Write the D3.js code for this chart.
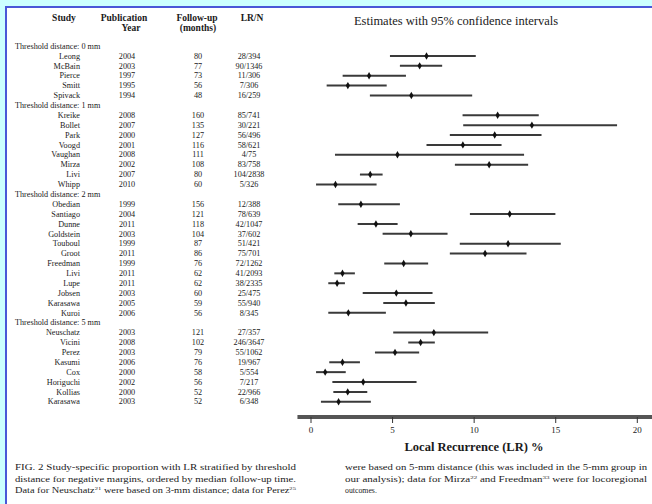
<!DOCTYPE html>
<html>
<head>
<meta charset="utf-8">
<script src="https://cdn.jsdelivr.net/npm/d3@7"></script>
<style>
  html, body { margin: 0; padding: 0; background: #ccffff; }
  svg { display: block; }
  text { font-family: "Liberation Serif", "Times New Roman", serif; fill: #1a1a1a; }
</style>
</head>
<body>
<svg id="fig" width="652" height="504"></svg>
<script>
// Threshold groups and their study rows (ordered by median follow-up)
const groupLabels = ["Threshold distance: 0 mm", "Threshold distance: 1 mm",
                     "Threshold distance: 2 mm", "Threshold distance: 5 mm"];
const groupSizes = [5, 8, 12, 8];

const studies = ["Leong", "McBain", "Pierce", "Smitt", "Spivack",
  "Kreike", "Bollet", "Park", "Voogd", "Vaughan", "Mirza", "Livi", "Whipp",
  "Obedian", "Santiago", "Dunne", "Goldstein", "Touboul", "Groot", "Freedman", "Livi", "Lupe", "Jobsen", "Karasawa", "Kuroi",
  "Neuschatz", "Vicini", "Perez", "Kasumi", "Cox", "Horiguchi", "Kollias", "Karasawa"];
const years = ["2004", "2003", "1997", "1995", "1994",
  "2008", "2007", "2000", "2001", "2008", "2002", "2007", "2010",
  "1999", "2004", "2011", "2003", "1999", "2011", "1999", "2011", "2011", "2003", "2005", "2006",
  "2003", "2008", "2003", "2006", "2000", "2002", "2000", "2003"];
const followUp = ["80", "77", "73", "56", "48",
  "160", "135", "127", "116", "111", "108", "80", "60",
  "156", "121", "118", "104", "87", "86", "76", "62", "62", "60", "59", "56",
  "121", "102", "79", "76", "58", "56", "52", "52"];
const lrN = ["28/394", "90/1346", "11/306", "7/306", "16/259",
  "85/741", "30/221", "56/496", "58/621", "4/75", "83/758", "104/2838", "5/326",
  "12/388", "78/639", "42/1047", "37/602", "51/421", "75/701", "72/1262", "41/2093", "38/2335", "25/475", "55/940", "8/345",
  "27/357", "246/3647", "55/1062", "19/967", "5/554", "7/217", "22/966", "6/348"];

// Local recurrence estimate (%) with lower / upper 95% limits
const estimate = [7.11, 6.69, 3.59, 2.29, 6.18,
  11.47, 13.57, 11.29, 9.34, 5.33, 10.95, 3.66, 1.53,
  3.09, 12.21, 4.01, 6.15, 12.11, 10.70, 5.71, 1.96, 1.63, 5.26, 5.85, 2.32,
  7.56, 6.75, 5.18, 1.96, 0.90, 3.23, 2.28, 1.72];
const lower = [4.87, 5.48, 1.97, 0.99, 3.64,
  9.32, 9.36, 8.54, 7.11, 1.50, 8.85, 3.03, 0.34,
  1.70, 9.77, 2.89, 4.42, 9.15, 8.54, 4.52, 1.46, 1.09, 3.20, 4.46, 1.09,
  5.07, 5.99, 3.95, 1.15, 0.34, 1.34, 1.40, 0.64];
const upper = [10.13, 8.07, 5.85, 4.67, 9.91,
  13.99, 18.79, 14.16, 11.71, 13.09, 13.34, 4.42, 4.05,
  5.48, 15.01, 5.34, 8.40, 15.34, 13.24, 7.21, 2.72, 2.11, 7.48, 7.62, 4.62,
  10.89, 7.62, 6.66, 3.03, 2.16, 6.50, 3.48, 3.70];

const xTicks = [0, 5, 10, 15, 20];

// ---- build the row layout: one header line per group, then its studies
const headerRows = [];
const studyRows = [];
let line = 0, k = 0;
groupSizes.forEach((n, g) => {
  headerRows.push({ label: groupLabels[g], line: line++ });
  for (let j = 0; j < n; j++, k++) {
    studyRows.push({ study: studies[k], year: years[k], fu: followUp[k], lrn: lrN[k],
                     est: estimate[k], lo: lower[k], hi: upper[k], line: line++ });
  }
});

const svg = d3.select("#fig");

// page frame: blue rule along top and left, white sheet
svg.append("rect").attr("x", 5).attr("y", 6).attr("width", 652).attr("height", 504).attr("fill", "#ffffff");
svg.append("line").attr("x1", 5).attr("x2", 652).attr("y1", 7).attr("y2", 7)
  .attr("stroke", "#4a57d8").attr("stroke-width", 2);
svg.append("line").attr("x1", 6).attr("x2", 6).attr("y1", 6).attr("y2", 504)
  .attr("stroke", "#4a57d8").attr("stroke-width", 2);

const y = d3.scaleLinear().domain([0, line - 1]).range([46.1, 46.1 + (line - 1) * 9.88]);
const x = d3.scaleLinear().domain([0, 20]).range([310.5, 636.8]);

// ---- table header
const head = svg.append("g").attr("font-weight", "bold").attr("font-size", 9.5).attr("text-anchor", "middle");
head.append("text").attr("x", 64).attr("y", 21).text("Study");
head.append("text").attr("x", 124).attr("y", 21).text("Publication");
head.append("text").attr("x", 131).attr("y", 31).text("Year");
head.append("text").attr("x", 197).attr("y", 21).text("Follow-up");
head.append("text").attr("x", 198).attr("y", 31).text("(months)");
head.append("text").attr("x", 252).attr("y", 21).text("LR/N");

svg.append("text").attr("x", 456).attr("y", 25).attr("text-anchor", "middle")
  .attr("font-size", 12.5).attr("fill", "#111")
  .text("Estimates with 95% confidence intervals");

// ---- group headers
svg.append("g").attr("font-size", 8.2).selectAll("text").data(headerRows).join("text")
  .attr("x", 15).attr("y", d => y(d.line)).attr("dy", "0.33em").text(d => d.label);

// ---- study table columns
const rowsG = svg.append("g").attr("font-size", 8.2);
const cols = [
  { key: "study", x: 80, anchor: "end" },
  { key: "year", x: 127, anchor: "middle" },
  { key: "fu", x: 198, anchor: "middle" },
  { key: "lrn", x: 249, anchor: "middle" }
];
cols.forEach(c => {
  rowsG.append("g").attr("text-anchor", c.anchor).selectAll("text").data(studyRows).join("text")
    .attr("x", c.x).attr("y", d => y(d.line)).attr("dy", "0.33em").text(d => d[c.key]);
});

// ---- confidence intervals and point estimates
const ci = svg.append("g");
ci.selectAll("line").data(studyRows).join("line")
  .attr("x1", d => x(d.lo)).attr("x2", d => x(d.hi))
  .attr("y1", d => y(d.line)).attr("y2", d => y(d.line))
  .attr("stroke", "#3a3a3a").attr("stroke-width", 2);
ci.selectAll("path").data(studyRows).join("path")
  .attr("d", d3.symbol(d3.symbolDiamond, 16))
  .attr("transform", d => `translate(${x(d.est)},${y(d.line)})`)
  .attr("fill", "#111");

// ---- x axis
const axisY = 417;
svg.append("line").attr("x1", x(-0.8)).attr("x2", 652).attr("y1", axisY).attr("y2", axisY)
  .attr("stroke", "#555").attr("stroke-width", 4);
const axisG = svg.append("g").attr("transform", `translate(0,${axisY})`)
  .call(d3.axisBottom(x).tickValues(xTicks).tickSize(6).tickPadding(4));
axisG.attr("font-family", null);
axisG.select(".domain").remove();
axisG.selectAll(".tick line").attr("stroke", "#333");
axisG.selectAll(".tick text").attr("font-size", 9).attr("fill", "#222");

svg.append("text").attr("x", 474).attr("y", 451).attr("text-anchor", "middle")
  .attr("font-size", 12.5).attr("font-weight", "bold").text("Local Recurrence (LR) %");

// ---- figure legend, two columns
const capLeft = [
  [["FIG. 2 Study-specific proportion with LR stratified by threshold"]],
  [["distance for negative margins, ordered by median follow-up time."]],
  [["Data for Neuschatz"], ["21", true], [" were based on 3-mm distance; data for Perez"], ["25", true]]
];
const capRight = [
  [["were based on 5-mm distance (this was included in the 5-mm group in"]],
  [["our analysis); data for Mirza"], ["22", true], [" and Freedman"], ["33", true], [" were for locoregional"]],
  [["outcomes."]]
];
function caption(lines, x0, width, justifyLast) {
  const g = svg.append("g").attr("font-size", 7.8);
  lines.forEach((parts, i) => {
    const t = g.append("text").attr("x", x0).attr("y", 470 + i * 11.5);
    if (i < lines.length - 1 || justifyLast) t.attr("textLength", width).attr("lengthAdjust", "spacingAndGlyphs");
    parts.forEach(([s, sup]) => {
      const ts = t.append("tspan").text(s);
      if (sup) ts.attr("font-size", 5).attr("dy", -3);
      else if (t.selectAll("tspan").size() > 1) ts.attr("dy", 3);
    });
  });
}
caption(capLeft, 15, 281, true);
caption(capRight, 345, 302, false);
</script>
</body>
</html>
